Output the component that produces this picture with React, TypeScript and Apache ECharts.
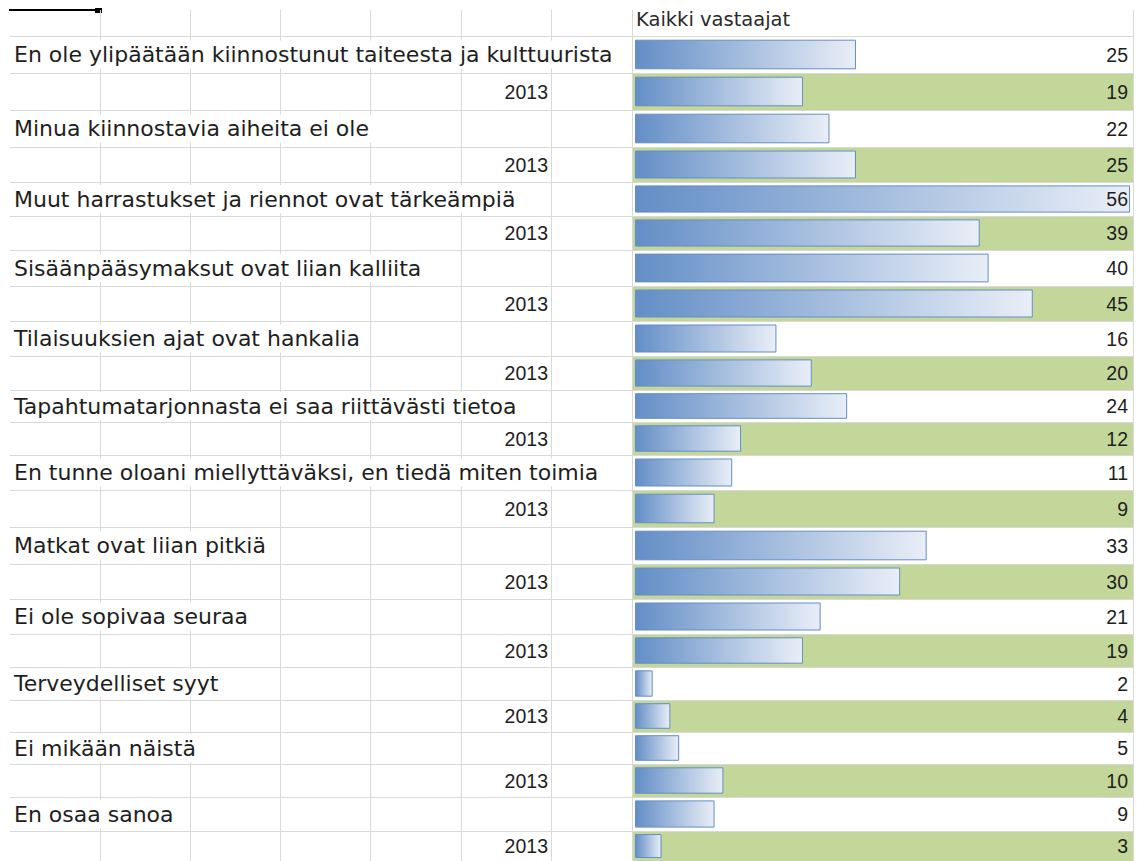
import React, { useEffect, useRef } from "react";
import * as echarts from "echarts";

const questions = [
  "En ole ylipäätään kiinnostunut taiteesta ja kulttuurista",
  "Minua kiinnostavia aiheita ei ole",
  "Muut harrastukset ja riennot ovat tärkeämpiä",
  "Sisäänpääsymaksut ovat liian kalliita",
  "Tilaisuuksien ajat ovat hankalia",
  "Tapahtumatarjonnasta ei saa riittävästi tietoa",
  "En tunne oloani miellyttäväksi, en tiedä miten toimia",
  "Matkat ovat liian pitkiä",
  "Ei ole sopivaa seuraa",
  "Terveydelliset syyt",
  "Ei mikään näistä",
  "En osaa sanoa",
];
const allRespondents = [25, 22, 56, 40, 16, 24, 11, 33, 21, 2, 5, 9];
const year2013 = [19, 25, 39, 45, 20, 12, 9, 30, 19, 4, 10, 3];
const compareYear = "2013";
const columnTitle = "Kaikki vastaajat";
const valueMax = 56;

// Layout: spreadsheet row heights in pixels (header row bottom at HEADER_BOTTOM)
const HEADER_BOTTOM = 36;
const ROW_HEIGHTS = [
  37, 37, 37, 35, 34, 34, 36, 35, 35, 34, 32, 33,
  35, 37, 37, 35, 35, 33, 33, 32, 32, 33, 34, 34,
];

const rowKeys: string[] = [];
const rowIsYear: boolean[] = [];
const rowText: string[] = [];
const rowValue: number[] = [];
questions.forEach((q, i) => {
  rowKeys.push(q);
  rowIsYear.push(false);
  rowText.push(q);
  rowValue.push(allRespondents[i]);
  rowKeys.push(q + " " + compareYear);
  rowIsYear.push(true);
  rowText.push(compareYear);
  rowValue.push(year2013[i]);
});

const GRID_LINE = "#D9D9D9";
const TEXT = "#1e1e1e";

export default function App() {
  const ref = useRef<HTMLDivElement>(null);
  useEffect(() => {
    if (!ref.current) return;
    const chart = echarts.init(ref.current, undefined, { renderer: "svg" });

    const cat = (gridIndex: number, key: string, extra: any = {}) => ({
      gridIndex,
      type: "category",
      data: [key],
      inverse: true,
      axisLine: { show: false },
      axisTick: { show: false },
      axisLabel: { show: false },
      splitLine: { show: false },
      ...extra,
    });
    const hiddenVal = (gridIndex: number) => ({
      gridIndex,
      type: "value",
      show: false,
    });

    const grids: any[] = [
      { left: 10, top: 10, width: 541, height: 860 },
      { left: 632, top: 10, width: 501, height: 860 },
    ];
    const xAxes: any[] = [
      {
        gridIndex: 0,
        type: "value",
        min: 0,
        max: 6,
        interval: 1,
        axisLine: { show: false },
        axisTick: { show: false },
        axisLabel: { show: false },
        splitLine: {
          show: true,
          showMinLine: false,
          showMaxLine: true,
          lineStyle: { color: GRID_LINE, width: 1 },
        },
        z: 1,
      },
      {
        gridIndex: 1,
        type: "value",
        min: 0,
        max: 1,
        interval: 1,
        axisLine: { show: false },
        axisTick: { show: false },
        axisLabel: { show: false },
        splitLine: {
          show: true,
          showMinLine: true,
          showMaxLine: true,
          lineStyle: { color: GRID_LINE, width: 1 },
        },
        z: 4,
      },
    ];
    const yAxes: any[] = [hiddenVal(0), hiddenVal(1)];
    const series: any[] = [];

    const barColor = new echarts.graphic.LinearGradient(0, 0, 1, 0, [
      { offset: 0, color: "#638EC6" },
      { offset: 1, color: "#E9EEF7" },
    ]);

    let top = HEADER_BOTTOM;
    rowKeys.forEach((key, i) => {
      const h = ROW_HEIGHTS[i];
      const isYear = rowIsYear[i];

      // full-width row: horizontal grid line + question text
      let g = grids.length;
      grids.push({ left: 10, top, width: 1123, height: h });
      xAxes.push(hiddenVal(g));
      yAxes.push(
        cat(g, key, {
          splitLine: {
            show: true,
            showMaxLine: false,
            lineStyle: { color: GRID_LINE, width: 1 },
          },
          axisLabel: {
            show: !isYear,
            inside: true,
            margin: 4,
            formatter: () => rowText[i],
            fontFamily: "DejaVu Sans",
            fontSize: 22,
            lineHeight: 22,
            color: TEXT,
            backgroundColor: "#ffffff",
            padding: [3, 6, 3, 0],
          },
          z: 3,
        })
      );

      // green fill for comparison-year rows in the data bar column
      if (isYear) {
        g = grids.length;
        grids.push({ left: 632, top, width: 501, height: h });
        xAxes.push(hiddenVal(g));
        yAxes.push(
          cat(g, key, {
            splitArea: {
              show: true,
              areaStyle: { color: ["#C4D79B"] },
            },
            z: 0,
          })
        );
      }

      // data bar + year label + value label
      g = grids.length;
      grids.push({ left: 635, top, width: 495, height: h });
      const xi = xAxes.length;
      xAxes.push({ gridIndex: g, type: "value", min: 0, max: valueMax, show: false });
      const yi = yAxes.length;
      yAxes.push(
        cat(g, key, {
          position: "left",
          axisLabel: {
            show: isYear,
            margin: 87,
            formatter: () => rowText[i],
            fontFamily: "Liberation Sans",
            fontSize: 19.5,
            color: TEXT,
          },
          z: 10,
        })
      );
      yAxes.push(
        cat(g, key, {
          position: "right",
          axisLabel: {
            show: true,
            inside: true,
            margin: 2,
            formatter: () => String(rowValue[i]),
            fontFamily: "Liberation Sans",
            fontSize: 19.5,
            color: TEXT,
          },
          z: 10,
        })
      );
      series.push({
        type: "bar",
        xAxisIndex: xi,
        yAxisIndex: yi,
        data: [rowValue[i]],
        barWidth: "80%",
        z: 5,
        itemStyle: {
          color: barColor,
          borderColor: "#638EC6",
          borderWidth: 1,
        },
      });

      top += h;
    });

    chart.setOption({
      animation: false,
      backgroundColor: "#ffffff",
      title: {
        text: columnTitle,
        left: 636,
        top: 9,
        padding: 0,
        textStyle: {
          fontFamily: "DejaVu Sans",
          fontSize: 19.5,
          fontWeight: "normal",
          color: "#2a2a2a",
        },
      },
      grid: grids,
      xAxis: xAxes,
      yAxis: yAxes,
      series,
      graphic: [
        {
          type: "line",
          shape: { x1: 9, y1: 10, x2: 97, y2: 10 },
          style: { stroke: "#000000", lineWidth: 2 },
        },
        {
          type: "rect",
          shape: { x: 95, y: 8, width: 7, height: 5 },
          style: { fill: "#000000" },
        },
      ],
    });
    return () => chart.dispose();
  }, []);
  return (
    <div
      ref={ref}
      style={{
        position: "fixed",
        left: 0,
        top: 0,
        width: 1137,
        height: 861,
        background: "#ffffff",
      }}
    />
  );
}
